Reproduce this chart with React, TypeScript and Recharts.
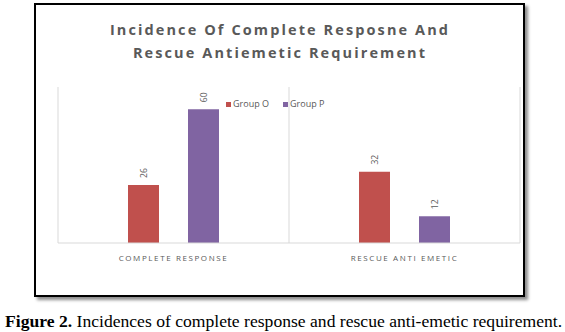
import React from 'react';
import { Bar, BarChart, CartesianGrid, LabelList, XAxis, YAxis } from 'recharts';

const categories = ['COMPLETE RESPONSE', 'RESCUE ANTI EMETIC'];
const groupO = [26, 32];
const groupP = [60, 12];
const titleLines = ['Incidence Of Complete Resposne And', 'Rescue Antiemetic Requirement'];
const seriesNames = ['Group O', 'Group P'];

const data = categories.map((name, i) => ({ name, o: groupO[i], p: groupP[i] }));

const TEXT = '#595959';
const COLORS = ['#C0504D', '#8064A2'];

const RotatedLabel = (props: any) => {
  const { x, y, width, value } = props;
  const cx = x + width / 2;
  const cy = y - 12;
  return (
    <text
      x={cx}
      y={cy}
      fill={TEXT}
      fontSize={8.5}
      textAnchor="middle"
      dominantBaseline="central"
      transform={`rotate(-90 ${cx} ${cy})`}
    >
      {value}
    </text>
  );
};

export default function App() {
  return (
    <div
      style={{
        position: 'absolute',
        left: 0,
        top: 0,
        width: 565,
        height: 332,
        background: '#fff',
        fontFamily: '"Open Sans", sans-serif',
      }}
    >
      {/* framed chart */}
      <div
        style={{
          position: 'absolute',
          left: 34,
          top: 3,
          width: 487,
          height: 290,
          border: '2px solid #000',
          boxShadow: '3px 3px 3px rgba(0,0,0,0.45)',
        }}
      />
      <div
        style={{
          position: 'absolute',
          left: 35,
          top: 18,
          width: 490,
          textAlign: 'center',
          fontWeight: 700,
          fontSize: 14.5,
          letterSpacing: 2.1,
          lineHeight: '23px',
          color: TEXT,
        }}
      >
        {titleLines.map((t) => (
          <div key={t}>{t}</div>
        ))}
      </div>
      <div style={{ position: 'absolute', left: 0, top: 0 }}>
        <BarChart
          width={565}
          height={332}
          data={data}
          margin={{ top: 87, left: 58, right: 45, bottom: 69 }}
          barSize={31}
          barGap={29}
        >
          <CartesianGrid
            horizontal={false}
            stroke="#d9d9d9"
            verticalCoordinatesGenerator={({ offset }: any) =>
              Array.from(
                { length: categories.length + 1 },
                (_, i) => offset.left + (i * offset.width) / categories.length,
              )
            }
          />
          <XAxis
            dataKey="name"
            height={20}
            axisLine={{ stroke: '#d9d9d9' }}
            tickLine={false}
            tick={{ fill: TEXT, fontSize: 8, letterSpacing: 1.6 }}
            tickMargin={6}
          />
          <YAxis hide domain={[0, 70]} />
          <Bar dataKey="o" name={seriesNames[0]} fill={COLORS[0]} isAnimationActive={false}>
            <LabelList dataKey="o" content={<RotatedLabel />} />
          </Bar>
          <Bar dataKey="p" name={seriesNames[1]} fill={COLORS[1]} isAnimationActive={false}>
            <LabelList dataKey="p" content={<RotatedLabel />} />
          </Bar>
        </BarChart>
      </div>
      {/* legend */}
      <div
        style={{
          position: 'absolute',
          left: 226,
          top: 98,
          display: 'flex',
          fontSize: 9,
          color: TEXT,
          lineHeight: '12px',
        }}
      >
        {seriesNames.map((n, i) => (
          <div key={n} style={{ display: 'flex', alignItems: 'center', marginRight: 14 }}>
            <span style={{ width: 5, height: 5, background: COLORS[i], marginRight: 2 }} />
            <span>{n}</span>
          </div>
        ))}
      </div>
      <div
        style={{
          position: 'absolute',
          left: 5,
          top: 310,
          fontFamily: '"Liberation Serif", "DejaVu Serif", "Times New Roman", serif',
          fontSize: 17.6,
          lineHeight: '22px',
          color: '#000',
          whiteSpace: 'nowrap',
        }}
      >
        <b>Figure 2.</b> Incidences of complete response and rescue anti-emetic requirement.
      </div>
    </div>
  );
}
